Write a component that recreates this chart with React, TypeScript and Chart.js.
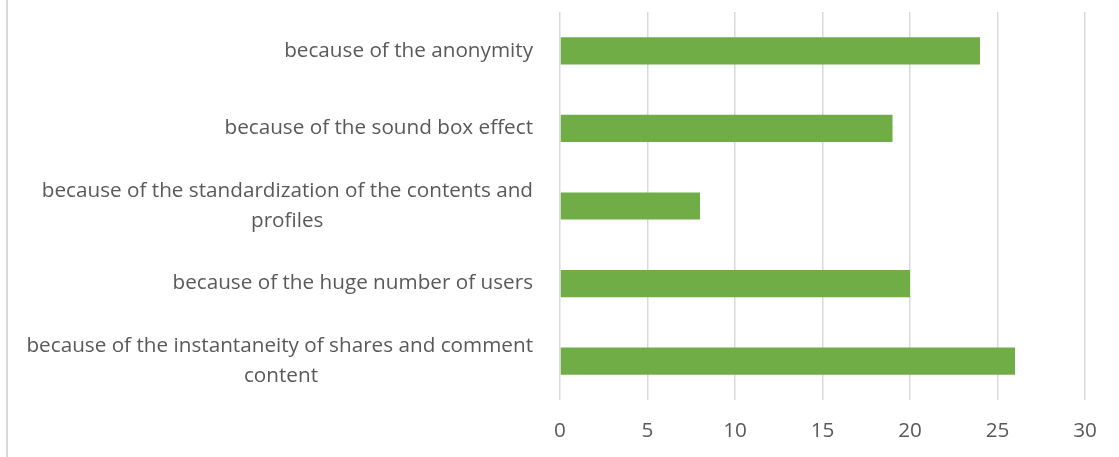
import React, { useEffect, useRef } from "react";
import { Chart, registerables } from "chart.js";

Chart.register(...registerables);

const categories: string[][] = [
  ["because of the anonymity"],
  ["because of the sound box effect"],
  ["because of the standardization of the contents and", "profiles"],
  ["because of the huge number of users"],
  ["because of the instantaneity of shares and comment", "content"],
];
const values: number[] = [24, 19, 8, 20, 26];
const xMin = 0;
const xMax = 30;
const xStep = 5;

const FONT_FAMILY = "'Open Sans', Lato, sans-serif";
const FONT_SIZE = 20.7;
const TEXT_COLOR = "#595959";
const GRID_COLOR = "#D9D9D9";
const BAR_COLOR = "#70AD47";

function centerLines(lines: string[], ctx: CanvasRenderingContext2D): string | string[] {
  if (lines.length < 2) return lines[0];
  const widths = lines.map((l) => ctx.measureText(l).width);
  const max = Math.max(...widths);
  const sp = ctx.measureText(" ").width || 5;
  return lines.map((l, i) => l + " ".repeat(Math.round((max - widths[i]) / 2 / sp)));
}

export default function App() {
  const ref = useRef<HTMLCanvasElement>(null);
  useEffect(() => {
    const canvas = ref.current;
    if (!canvas) return;
    const ctx = canvas.getContext("2d")!;
    ctx.font = `${FONT_SIZE}px ${FONT_FAMILY}`;
    const labels = categories.map((c) => centerLines(c, ctx));
    const chart = new Chart(canvas, {
      type: "bar",
      data: {
        labels,
        datasets: [
          {
            data: values,
            backgroundColor: BAR_COLOR,
            borderWidth: 0,
            barPercentage: 0.35,
            categoryPercentage: 1,
          },
        ],
      },
      options: {
        indexAxis: "y",
        animation: false,
        responsive: false,
        devicePixelRatio: 1,
        layout: { padding: { top: 12, right: 34, left: 0, bottom: 0 } },
        plugins: { legend: { display: false }, tooltip: { enabled: false } },
        scales: {
          x: {
            min: xMin,
            max: xMax,
            ticks: {
              stepSize: xStep,
              color: TEXT_COLOR,
              font: { family: FONT_FAMILY, size: FONT_SIZE },
              padding: 19,
            },
            grid: { color: GRID_COLOR, lineWidth: 1.5, drawTicks: false },
            border: { display: false },
            afterFit: (s: any) => {
              s.height = 57;
              s.paddingLeft = 0;
              s.paddingRight = 0;
            },
          },
          y: {
            ticks: {
              color: TEXT_COLOR,
              font: { family: FONT_FAMILY, size: FONT_SIZE, lineHeight: 1.45 },
              padding: 27,
            },
            grid: { display: false, drawTicks: false },
            border: { display: false },
            afterFit: (s: any) => {
              s.width = 560;
              s.paddingTop = 0;
              s.paddingBottom = 0;
            },
          },
        },
      },
    });
    return () => chart.destroy();
  }, []);
  return (
    <div style={{ position: "fixed", left: 0, top: 0, width: 1119, height: 457, background: "#fff" }}>
      <div style={{ position: "absolute", left: 6, top: 0, width: 2, height: 457, background: GRID_COLOR }} />
      <canvas ref={ref} width={1119} height={457} style={{ position: "absolute", left: 0, top: 0 }} />
    </div>
  );
}
